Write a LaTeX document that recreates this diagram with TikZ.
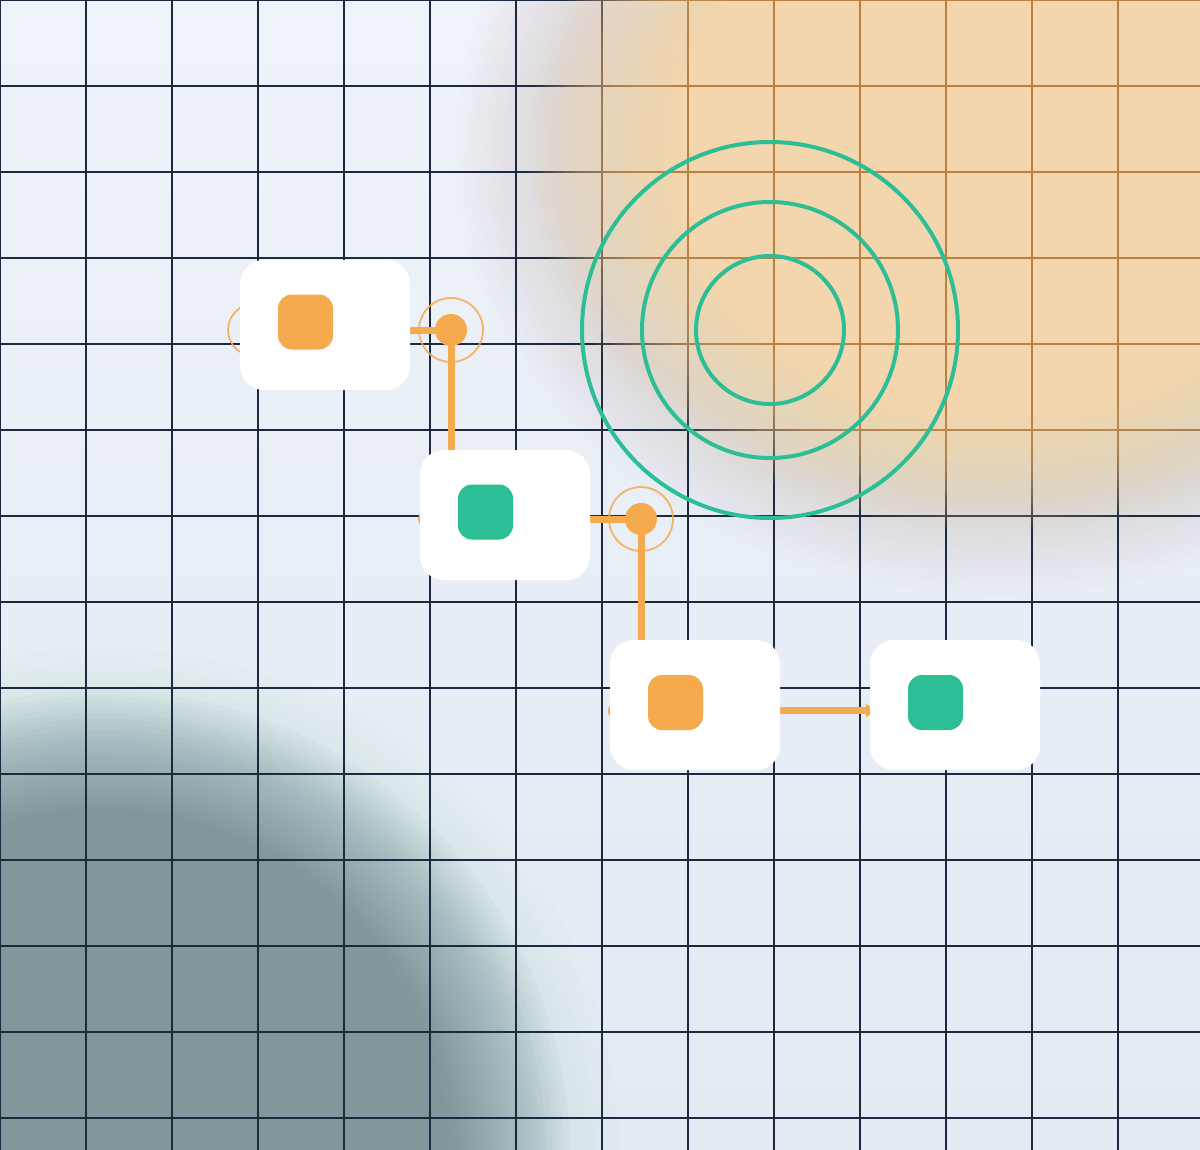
\documentclass[tikz,border=0pt]{standalone}
\usetikzlibrary{arrows.meta}
\definecolor{bgtop}{HTML}{EEF3F9}
\definecolor{bgbot}{HTML}{E3EAF2}
\definecolor{navy}{HTML}{1B2A3E}
\definecolor{gridbrown}{HTML}{BA8040}
\definecolor{blobor}{HTML}{F3D5AE}
\definecolor{blobgray}{HTML}{B8A488}
\definecolor{blobteal}{HTML}{80979C}
\definecolor{blobtealL}{HTML}{B5D6D0}
\definecolor{acc}{HTML}{F5AA4D}
\definecolor{grn}{HTML}{2CBE95}

\pgfdeclarelayer{back}
\pgfdeclarelayer{wires}
\pgfsetlayers{back,wires,main}

% fuzzy ellipse with a linear opacity ramp:
% colour, centre, outer rx, outer ry, core rx, core ry, steps N, peak opacity M
\newcommand\fuzzyell[8]{%
  \foreach \k in {1,...,#7} {%
    \pgfmathsetmacro\rx{#3-(\k-1)*(#3-#5)/(#7-1)}%
    \pgfmathsetmacro\ry{#4-(\k-1)*(#4-#6)/(#7-1)}%
    \pgfmathsetmacro\aa{min(1,(#8/#7)/(1-#8*(\k-1)/#7))}%
    \fill[#1, fill opacity=\aa] #2 ellipse[x radius=\rx bp, y radius=\ry bp];%
  }}
\newcommand\gridpath{%
    \foreach \x in {0,86,...,1118} {(\x,0) -- (\x,1150)}
    \foreach \y in {0,86,...,1118} {(0,\y) -- (1200,\y)}}

\begin{document}
\begin{tikzpicture}[x=1bp,y=-1bp,
  box/.style={fill=white, rounded corners=24bp, minimum width=170bp, minimum height=130bp, inner sep=0pt, draw=none},
  sqor/.style={fill=acc, rounded corners=14bp, minimum size=55bp, inner sep=0pt},
  sqgr/.style={sqor, fill=grn},
  flow/.style={draw=acc, line width=7bp},
  halo/.style={circle, draw=acc, line width=1.8bp, draw opacity=0.85, minimum size=64bp, inner sep=0pt},
  dot/.style={circle, fill=acc, minimum size=32bp, inner sep=0pt},
  port/.style={circle, fill=acc, minimum size=18bp, inner sep=0pt},
  ring/.style={circle, draw=grn, line width=4bp, inner sep=0pt},
  gridline/.style={line width=1.5bp}]
\useasboundingbox (0,0) rectangle (1200,1150);

\begin{pgfonlayer}{back}
  \shade[top color=bgtop, bottom color=bgbot] (0,0) rectangle (1200,1150);
  % teal blob bottom left
  \fuzzyell{blobtealL}{(100,1160)}{520}{520}{380}{380}{18}{0.55}
  \fuzzyell{blobteal}{(100,1160)}{470}{470}{350}{350}{22}{1}
  % grey halo around orange blob
  \fuzzyell{blobgray}{(1000,150)}{545}{445}{440}{350}{18}{0.25}
  % navy grid
  \draw[navy, gridline] \gridpath;
  % orange blob
  \fuzzyell{blobor}{(1000,150)}{470}{380}{330}{270}{22}{1}
  % orange-tinted grid inside the blob
  \foreach \k in {1,...,22} {
    \pgfmathsetmacro\rx{470-(\k-1)*140/21}
    \pgfmathsetmacro\ry{380-(\k-1)*110/21}
    \pgfmathsetmacro\aa{min(1,(1/22)/(1-(\k-1)/22))}
    \begin{scope}
      \clip (1000,150) ellipse[x radius=\rx bp, y radius=\ry bp];
      \draw[gridbrown, gridline, draw opacity=\aa] \gridpath;
    \end{scope}
  }
\end{pgfonlayer}

% concentric rings
\node[ring, minimum size=376bp] (R1) at (770,330) {};
\node[ring, minimum size=256bp] (R2) at (770,330) {};
\node[ring, minimum size=148bp] (R3) at (770,330) {};

% boxes
\node[box] (A) at (325,325) {};
\node[box] (B) at (505,515) {};
\node[box] (C) at (695,705) {};
\node[box] (D) at (955,705) {};
\node[sqor] (Ai) at (305.5,322) {};
\node[sqgr] (Bi) at (485.5,512) {};
\node[sqor] (Ci) at (675.5,702.5) {};
\node[sqgr] (Di) at (935.5,702.5) {};

\begin{pgfonlayer}{wires}
  \node[circle, draw=acc, line width=1.5bp, minimum size=52bp, inner sep=0pt] (Ap) at (254,330) {};
  \node[port] (Bp) at (427,519) {};
  \node[port] (Cp) at (617,711) {};
  \node[dot] (J1) at (451,330) {};
  \node[dot] (J2) at (641,519) {};
  \node[halo] (H1) at (J1.center) {};
  \node[halo] (H2) at (J2.center) {};
  \draw[flow] (A.east |- J1.center) -- (J1.center) -- (J1.center |- B.north);
  \draw[flow] (B.east |- J2.center) -- (J2.center) -- (J2.center |- C.north);
  \draw[flow, -{Triangle[length=10bp,width=13bp]}, shorten >=-6bp]
    ([yshift=-5.5bp]C.east) -- ([yshift=-5.5bp]D.west);
\end{pgfonlayer}
\end{tikzpicture}
\end{document}
